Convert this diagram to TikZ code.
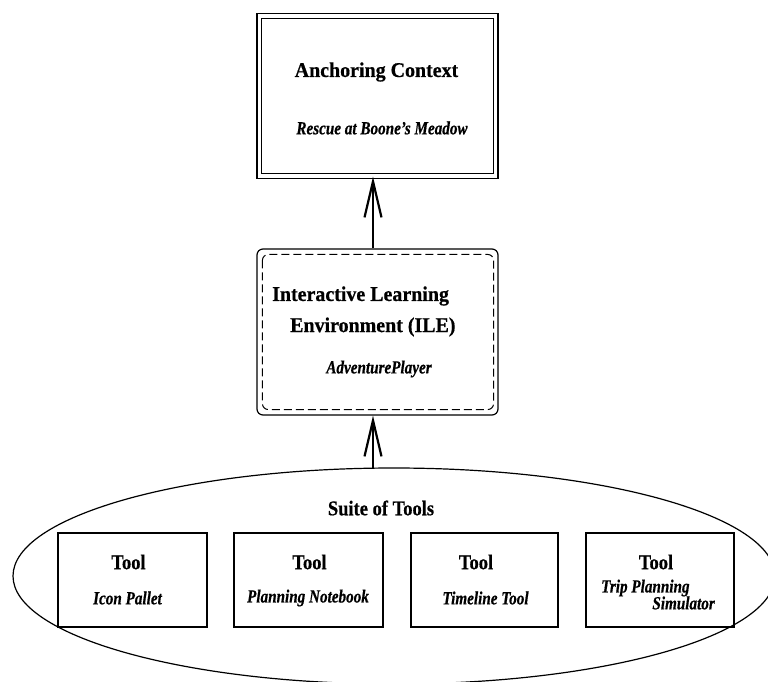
\documentclass[tikz,border=0pt]{standalone}
\usepackage{fontspec}
\setmainfont{Liberation Serif}
\newfontfamily\titlefont[FakeStretch=0.95,FakeBold=0.6]{Liberation Serif}
\newfontfamily\toolfont[FakeStretch=0.88,FakeBold=0.6]{Liberation Serif}
\newfontfamily\subfont[FakeStretch=0.82,FakeBold=0.6]{Liberation Serif}
\usetikzlibrary{shapes.geometric,arrows.meta}
\tikzset{
  box/.style={draw,line width=1.2pt,inner sep=0pt,rectangle},
  title/.style={font=\titlefont\bfseries\fontsize{21}{23}\selectfont,inner sep=0pt},
  sub/.style={font=\subfont\bfseries\itshape\fontsize{18.5}{20}\selectfont,inner sep=0pt},
  tooltitle/.style={font=\toolfont\bfseries\fontsize{21}{23}\selectfont,inner sep=0pt},
  arr/.style={line width=2.4pt,-{Straight Barb[length=36pt,width=17pt,line width=2.2pt]}},
}
\begin{document}
\begin{tikzpicture}[x=1pt,y=-1pt]
\useasboundingbox (0,0) rectangle (768,681);
\clip (0,0) rectangle (768,681);
% anchoring context
\node[box,double=white,double distance=3.2pt,line width=1.2pt,minimum width=236.5pt,minimum height=160pt] (anc) at (377.5,96) {};
\node[title] (anct) at (376.5,72) {Anchoring Context};
\node[sub] (ancs) at (382,128) {Rescue at Boone’s Meadow};
% ILE
\node[box,rounded corners=6pt,minimum width=241pt,minimum height=166pt] (ile) at (377.5,332) {};
\draw[line width=1pt,dash pattern=on 8pt off 4pt,rounded corners=6pt] ([xshift=6pt,yshift=-6pt]ile.north west) rectangle ([xshift=-5pt,yshift=6pt]ile.south east);
\node[title,anchor=west] (ile1) at (272,296) {Interactive Learning};
\node[title,anchor=west] (ile2) at (290,327) {Environment (ILE)};
\node[sub] (ile3) at (379,369) {AdventurePlayer};
% suite
\node[draw,ellipse,line width=1.2pt,minimum width=762pt,minimum height=216pt,inner sep=0pt] (suite) at (394,576) {};
\node[tooltitle] (suitet) at (381,508) {Suite of Tools};
\node[box,minimum width=149pt,minimum height=94pt] (t1) at (132.5,580) {};
\node[box,minimum width=149pt,minimum height=94pt] (t2) at (308.5,580) {};
\node[box,minimum width=147pt,minimum height=94pt] (t3) at (484.5,580) {};
\node[box,minimum width=148pt,minimum height=94pt] (t4) at (660,580) {};
\node[tooltitle] (t1a) at (128.5,562) {Tool};
\node[sub] (t1b) at (127.5,598) {Icon Pallet};
\node[tooltitle] (t2a) at (309.5,562) {Tool};
\node[sub] (t2b) at (308,598) {Planning Notebook};
\node[tooltitle] (t3a) at (476,562) {Tool};
\node[sub] (t3b) at (485.5,598) {Timeline Tool};
\node[tooltitle] (t4a) at (656,562) {Tool};
\node[sub,anchor=west] (t4b) at (601,588) {Trip Planning};
\node[sub,anchor=east] (t4c) at (715,603) {Simulator};
% arrows
\draw[arr] ([xshift=-4.5pt]ile.north) -- ([xshift=-4.5pt]anc.south);
\draw[arr] ([xshift=-4.5pt,yshift=-53pt]ile.south) -- ([xshift=-4.5pt]ile.south);
\end{tikzpicture}
\end{document}
